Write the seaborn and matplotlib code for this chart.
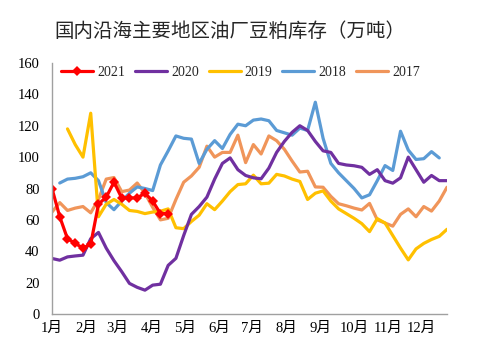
import matplotlib
matplotlib.use("Agg")
import matplotlib.pyplot as plt
import seaborn as sns
import numpy as np
import pandas as pd

# ---- data (weekly inventory, 万吨) ----
y2021 = [80, 62, 48, 45, 42, 44.5, 70, 74.5, 84, 74, 74, 74, 77, 72, 64, 64]
y2020 = [35.4, 34.3, 36.4, 37, 37.5, 48, 52, 42, 34, 27, 19.5, 17, 15.2, 18.4, 19, 31,
         35.5, 50, 63.5, 68.5, 74.5, 86, 96, 99.5, 92, 88.3, 86.8, 86.2, 93, 103,
         110, 115.8, 120, 117, 110, 104, 103, 96, 95, 94.5, 93.5, 89, 92, 85, 83.4,
         86.8, 100, 92, 84, 88.3, 85, 85]
y2019 = [None, None, 118, 108, 100, 128, 62, 70, 73, 70, 66, 65.4, 64, 65, 65.5, 67,
         55, 54.4, 59, 63, 70.3, 66.5, 72, 78, 82.5, 83, 88.5, 83, 83.4, 89, 88, 86,
         84.5, 73, 77, 78.5, 72, 67, 64, 61, 57.6, 52.5, 60.8, 58, 50, 42, 34.5, 41.5,
         45, 47.5, 49.5, 54]
y2018 = [None, 83.5, 86, 86.5, 87.5, 90, 85, 71, 66.5, 72, 77, 81, 80, 78.7, 95, 104,
         113.5, 112, 111.5, 96, 105, 110.5, 105.5, 114.5, 121, 120, 123.6, 124.3, 123.2,
         117, 115.5, 114, 118.5, 117, 135, 112, 96, 90, 85, 80, 74, 76, 85, 94.6, 91.5,
         116.5, 104.5, 98.5, 99, 103.5, 99.5]
y2017 = [65, 71, 66, 67.5, 68.5, 64.5, 73, 86, 87, 78, 79, 83.5, 77, 68, 60, 61, 73,
         84, 88, 93.5, 107, 100, 103, 103, 114, 96.5, 108, 102, 113.5, 110.5, 105,
         97.5, 90.5, 91, 81, 80.8, 75, 70.3, 69, 67.5, 66.3, 70.5, 60, 58, 56, 63.5, 67,
         62, 68.5, 65.6, 72, 80.8]

years = ["2021", "2020", "2019", "2018", "2017"]
series = {"2021": y2021, "2020": y2020, "2019": y2019, "2018": y2018, "2017": y2017}
colors = {"2021": "#FF0000", "2020": "#7030A0", "2019": "#FFC000",
          "2018": "#5B9BD5", "2017": "#F0955A"}

month_days = [0, 31, 59, 90, 120, 151, 181, 212, 243, 273, 304, 334]
month_labels = ["1月", "2月", "3月", "4月", "5月", "6月", "7月", "8月", "9月",
                "10月", "11月", "12月"]
y_ticks = [0, 20, 40, 60, 80, 100, 120, 140, 160]

# ---- style ----
sns.set_style("white")
plt.rcParams["font.family"] = ["Liberation Serif", "Noto Sans CJK SC", "DejaVu Sans"]

fig = plt.figure(figsize=(4.79, 3.55), dpi=100)
ax = fig.add_axes([52 / 479, 1 - 314 / 355, 395 / 479, 251 / 355])

draw_order = ["2017", "2018", "2019", "2020", "2021"]
for yr in draw_order:
    vals = series[yr]
    df = pd.DataFrame({"day": [7 * i for i in range(len(vals))],
                       "v": [np.nan if v is None else v for v in vals]})
    df = df.dropna()
    kw = dict(marker="D", markersize=5.5, markeredgewidth=0) if yr == "2021" else {}
    sns.lineplot(data=df, x="day", y="v", color=colors[yr], linewidth=2.3,
                 ax=ax, label=yr, **kw)

ax.set_xlim(0, 357)
ax.set_ylim(0, 160)
ax.set_xticks(month_days)
ax.set_xticklabels(month_labels)
ax.set_yticks(y_ticks)
ax.set_xlabel("")
ax.set_ylabel("")
for s in ["top", "right"]:
    ax.spines[s].set_visible(False)
for s in ["left", "bottom"]:
    ax.spines[s].set_color("#A0A0A0")
    ax.spines[s].set_linewidth(1.0)
ax.tick_params(axis="both", direction="in", length=4, color="#A0A0A0",
               labelsize=10.5, labelcolor="#000000")
ax.tick_params(axis="y", pad=9)
ax.tick_params(axis="x", pad=6)

h, l = ax.get_legend_handles_labels()
hd = dict(zip(l, h))
ax.legend([hd[y] for y in years], years, ncol=5, frameon=False, loc="center",
          bbox_to_anchor=(240.5 / 479, 1 - 72 / 355), bbox_transform=fig.transFigure,
          fontsize=10, handlelength=2.3, handletextpad=0.3, columnspacing=0.7)

fig.text(230 / 479, 1 - 31 / 355, "国内沿海主要地区油厂豆粕库存（万吨）",
         ha="center", va="center", fontsize=14,
         family=["Noto Sans CJK SC", "DejaVu Sans"])

fig.savefig("out.png", dpi=100)
